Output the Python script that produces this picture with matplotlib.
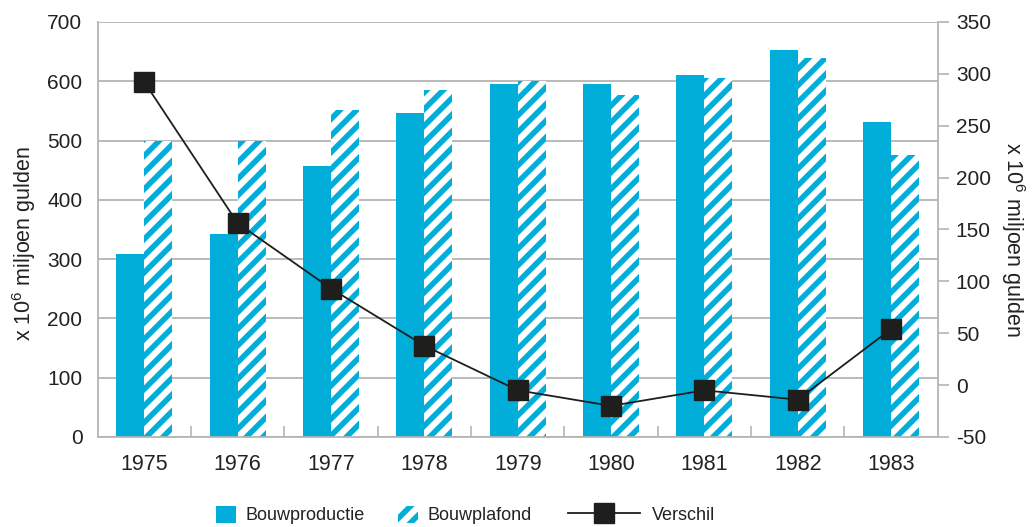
import numpy as np
import matplotlib.pyplot as plt

# gegevens
jaren = ['1975', '1976', '1977', '1978', '1979', '1980', '1981', '1982', '1983']
bouwproductie = [309, 342, 457, 547, 595, 595, 611, 653, 531]
bouwplafond = [500, 500, 551, 585, 600, 577, 605, 639, 475]
verschil = [292, 156, 93, 38, -5, -20, -5, -14, 54]

links_ticks = [0, 100, 200, 300, 400, 500, 600, 700]
rechts_ticks = [-50, 0, 50, 100, 150, 200, 250, 300, 350]

CYAAN = '#00AED9'
ZWART = '#1E1E1C'
GRIJS = '#B4B4B4'
TEKST = '#222222'

plt.rcParams['font.family'] = ['Liberation Sans', 'DejaVu Sans']
plt.rcParams['mathtext.fontset'] = 'custom'
plt.rcParams['mathtext.rm'] = 'Liberation Sans'
plt.rcParams['axes.unicode_minus'] = False
plt.rcParams['hatch.linewidth'] = 4.0


def main():
    fig = plt.figure(figsize=(10.32, 5.27), dpi=100)
    ax = fig.add_axes([0.0947, 0.1708, 0.8140, 0.7875])

    x = np.arange(len(jaren))
    b = 0.3
    ax.bar(x - b / 2, bouwproductie, b, color=CYAAN, linewidth=0,
           label='Bouwproductie')
    ax.bar(x + b / 2, bouwplafond, b, facecolor='white', edgecolor=CYAAN,
           hatch='//', linewidth=0, label='Bouwplafond')

    ax.set_xlim(-0.5, len(jaren) - 0.5)
    ax.set_ylim(0, 700)
    ax.set_yticks(links_ticks)
    ax.set_axisbelow(True)
    ax.yaxis.grid(True, color=GRIJS, linewidth=1.3)

    ax.set_xticks(x)
    ax.set_xticklabels(jaren)
    ax.set_xticks(np.arange(0.5, len(jaren) - 1, 1), minor=True)
    ax.tick_params(axis='x', which='major', length=0, pad=12,
                   labelsize=15.5, labelcolor=TEKST)
    ax.tick_params(axis='x', which='minor', direction='in', length=8,
                   width=1.2, color=GRIJS)
    ax.tick_params(axis='y', length=0, pad=11, labelsize=15,
                   labelcolor=TEKST)

    for s in ['top', 'right']:
        ax.spines[s].set_visible(False)
    for s in ['left', 'bottom']:
        ax.spines[s].set_color(GRIJS)
        ax.spines[s].set_linewidth(1.3)

    ax.set_ylabel('x 10$^6$ miljoen gulden', fontsize=15.5, color=TEKST,
                  rotation=90, va='center', ha='center')
    ax.yaxis.set_label_coords(-0.0877, 0.465)

    # tweede as voor het verschil
    ax2 = ax.twinx()
    ax2.plot(x, verschil, color=ZWART, linewidth=1.3, marker='s',
             markersize=14, markerfacecolor=ZWART, markeredgecolor=ZWART,
             label='Verschil')
    ax2.set_ylim(-50, 350)
    ax2.set_yticks(rechts_ticks)
    ax2.tick_params(axis='y', length=8, width=1.2, color=GRIJS, pad=5,
                    labelsize=15, labelcolor=TEKST)
    for s in ['top', 'left', 'bottom']:
        ax2.spines[s].set_visible(False)
    ax2.spines['right'].set_color(GRIJS)
    ax2.spines['right'].set_linewidth(1.3)
    ax2.set_ylabel('x 10$^6$ miljoen gulden', fontsize=15.5, color=TEKST,
                   rotation=270, va='center', ha='center')
    ax2.yaxis.set_label_coords(1.089, 0.475)

    # legenda onderaan, drie losse items
    h1, l1 = ax.get_legend_handles_labels()
    h2, l2 = ax2.get_legend_handles_labels()
    posities = [0.2093, 0.3857, 0.5504]
    items = [(h1[0], l1[0], 1.1, 0.55), (h1[1], l1[1], 1.1, 0.55),
             (h2[0], l2[0], 4.0, 0.66)]
    for (h, l, hl, tp), px in zip(items, posities):
        fig.legend([h], [l], loc='center left', bbox_to_anchor=(px, 0.0228),
                   frameon=False, fontsize=13, handlelength=hl,
                   handleheight=1.1, handletextpad=tp, borderpad=0,
                   borderaxespad=0, labelcolor=TEKST)

    fig.savefig('out.png', dpi=100)


if __name__ == '__main__':
    main()
